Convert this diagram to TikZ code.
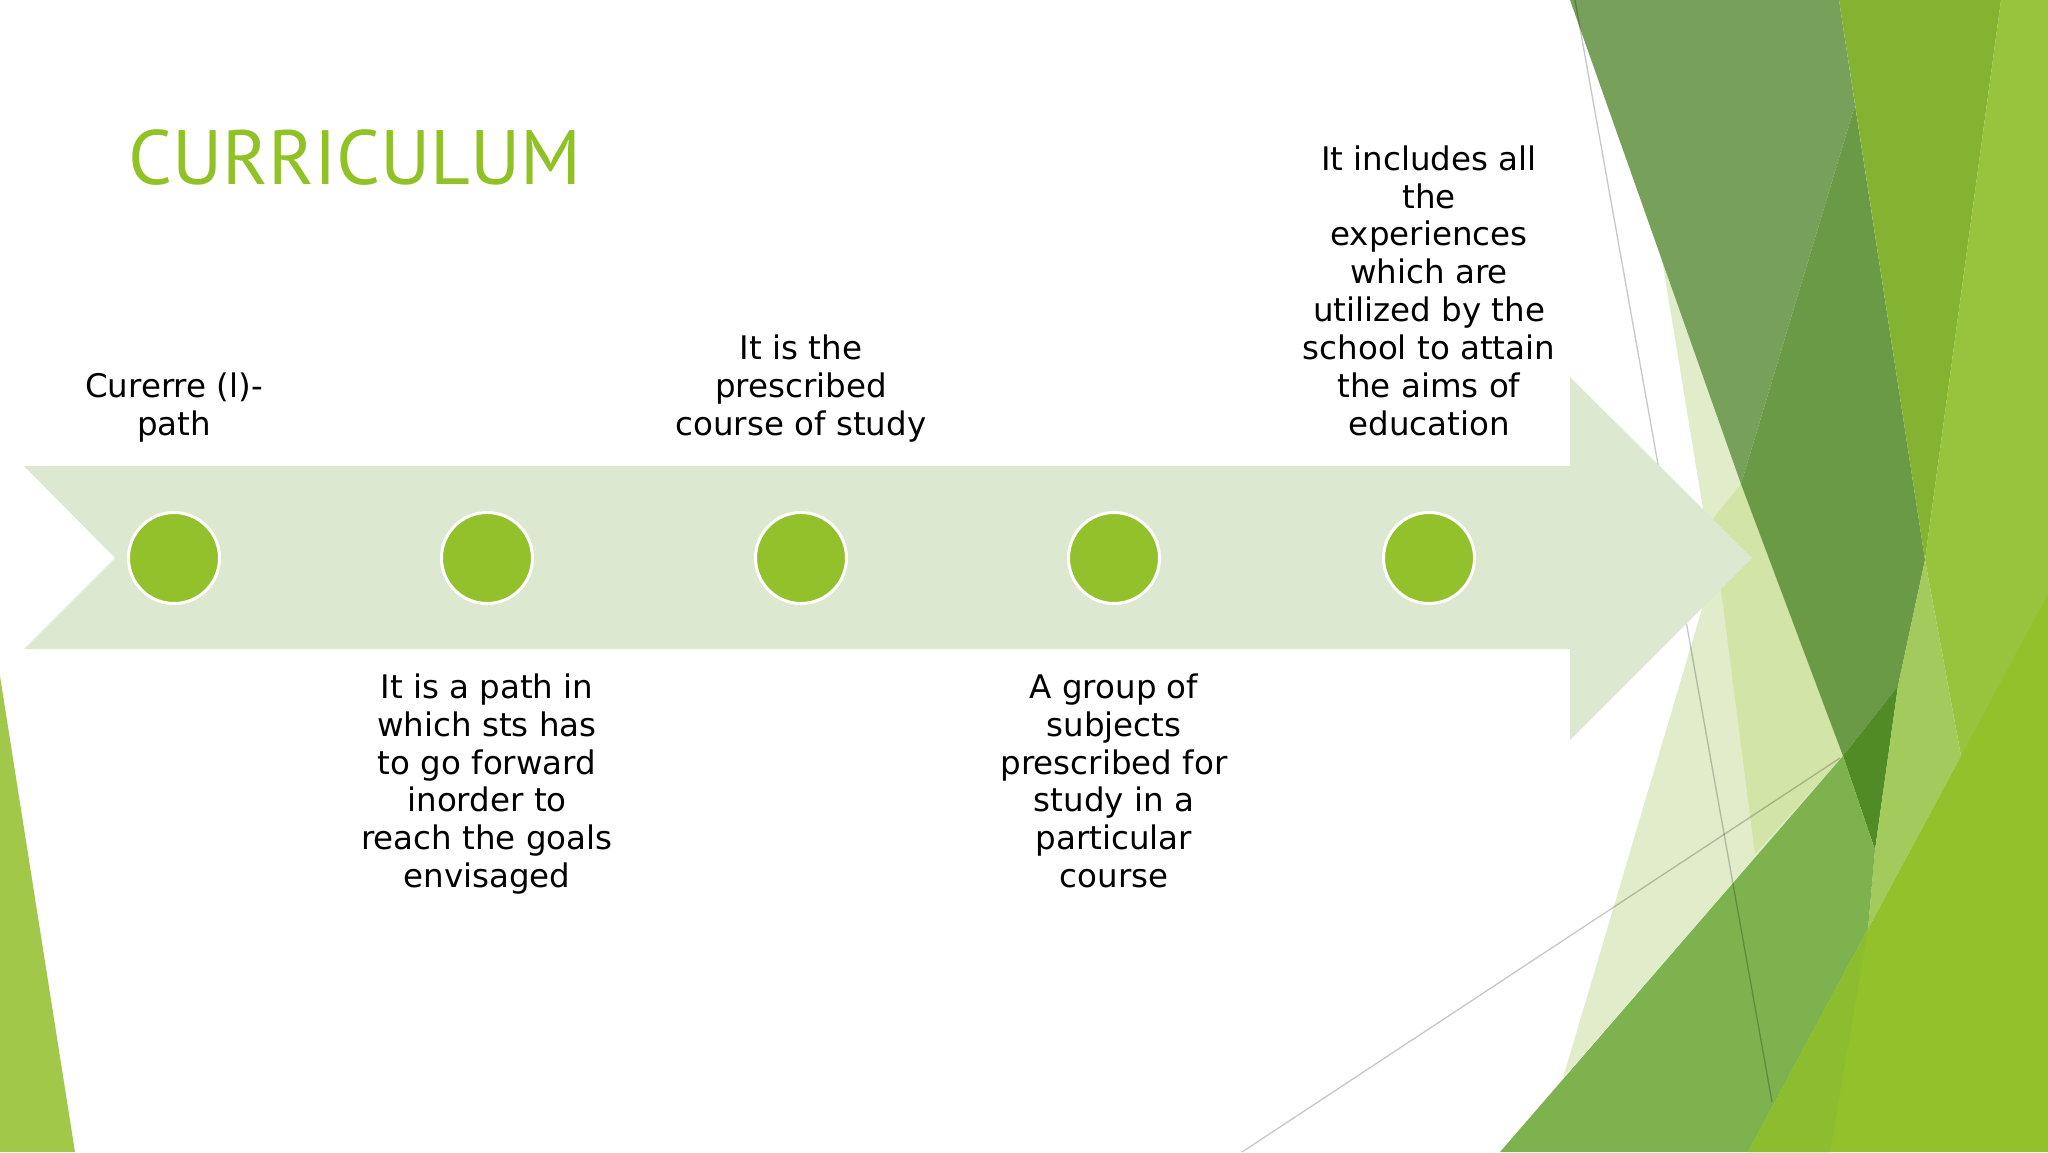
\documentclass[tikz,border=0pt]{standalone}
\usepackage{fontspec}
\setmainfont{DejaVu Sans}
\newfontfamily\titlefont{PT Sans}
\definecolor{titlegreen}{RGB}{144,194,38}
\definecolor{dotgreen}{RGB}{147,193,43}
\definecolor{arrowfill}{RGB}{221,232,208}
\definecolor{facetgray}{RGB}{119,160,90}
\definecolor{facetdark}{RGB}{106,154,69}
\definecolor{facetdarkest}{RGB}{80,139,37}
\definecolor{facetmid}{RGB}{132,179,49}
\definecolor{facetlime}{RGB}{152,196,61}
\definecolor{facetlight}{RGB}{162,202,92}
\definecolor{facetbright}{RGB}{146,193,43}
\definecolor{facetbrightdk}{RGB}{140,189,46}
\definecolor{facetgreen}{RGB}{125,178,78}
\definecolor{facetpale}{RGB}{224,236,202}
\definecolor{facetpaletwo}{RGB}{211,229,166}
\definecolor{facetleft}{RGB}{162,200,74}
\begin{document}
\begin{tikzpicture}[x=1pt,y=-1pt,
  dot/.style={circle,minimum size=91pt,inner sep=0pt,fill=dotgreen,draw=white,line width=3pt},
  toplabel/.style={anchor=south,align=center,inner sep=0pt,font=\fontsize{32.5}{37.9}\selectfont,text=black},
  botlabel/.style={anchor=north,align=center,inner sep=0pt,font=\fontsize{32.5}{37.9}\selectfont,text=black},
  titlestyle/.style={anchor=base west,inner sep=0pt,font=\titlefont\fontsize{77}{90}\selectfont,text=titlegreen},
  thinline/.style={draw=black,draw opacity=0.22,line width=1.3pt}]
\useasboundingbox (0,0) rectangle (2048,1152);
\fill[white] (0,0) rectangle (2048,1152);
\begin{scope}
\clip (0,0) rectangle (2048,1152);
% left facet
\fill[facetleft] (0,676) -- (75,1152) -- (0,1152) -- cycle;
% right facets
\fill[facetpale] (1661,253) -- (1843,756) -- (1563,1078) -- (1702,609) -- (1703,509) -- cycle;
\fill[facetpaletwo] (1712,520) -- (1741,484) -- (1843,756) -- (1755,854) -- cycle;
\fill[facetgray] (1570,0) -- (1839,0) -- (1855,105) -- (1741,484) -- cycle;
\fill[facetdark] (1855,105) -- (1925,560) -- (1898,686) -- (1843,756) -- (1741,484) -- cycle;
\fill[facetdarkest] (1843,756) -- (1898,686) -- (1875,850) -- cycle;
\fill[facetmid] (1839,0) -- (2001,0) -- (1925,560) -- cycle;
\fill[facetlime] (2001,0) -- (2048,0) -- (2048,700) -- (1961,756) -- (1925,560) -- cycle;
\fill[facetlight] (1925,560) -- (1961,756) -- (1868,929) -- (1875,850) -- (1898,686) -- cycle;
\fill[facetgreen] (1500,1152) -- (1843,756) -- (1875,850) -- (1868,929) -- (1748,1152) -- cycle;
\draw[thinline] (1575,0) -- (1772,1102);
\draw[thinline] (1242,1152) -- (1840,758);
\fill[facetbright] (1748,1152) -- (1868,929) -- (1961,756) -- (2048,594) -- (2048,1152) -- cycle;
\fill[facetbrightdk] (1868,929) -- (1830,1152) -- (1748,1152) -- cycle;
\end{scope}
% timeline arrow
\fill[arrowfill] (24,466) -- (1570,466) -- (1570,377) -- (1752,558) -- (1570,740) -- (1570,649) -- (24,649) -- (115,558) -- cycle;
% title
\node[titlestyle] (title) at (128,184) {CURRICULUM};
% dots
\node[dot] (c1) at (174,558) {};
\node[dot] (c2) at (487,558) {};
\node[dot] (c3) at (801,558) {};
\node[dot] (c4) at (1114,558) {};
\node[dot] (c5) at (1429,558) {};
% labels
\node[toplabel] (t1) at (174,447) {Curerre (l)-\\path\strut};
\node[toplabel] (t3) at (801,447) {It is the\\prescribed\\course of study\strut};
\node[toplabel] (t5) at (1429,447) {It includes all\\the\\experiences\\which are\\utilized by the\\school to attain\\the aims of\\education\strut};
\node[botlabel] (b2) at (487,671.5) {\strut It is a path in\\which sts has\\to go forward\\inorder to\\reach the goals\\envisaged};
\node[botlabel] (b4) at (1114,671.5) {\strut A group of\\subjects\\prescribed for\\study in a\\particular\\course};
\end{tikzpicture}
\end{document}
